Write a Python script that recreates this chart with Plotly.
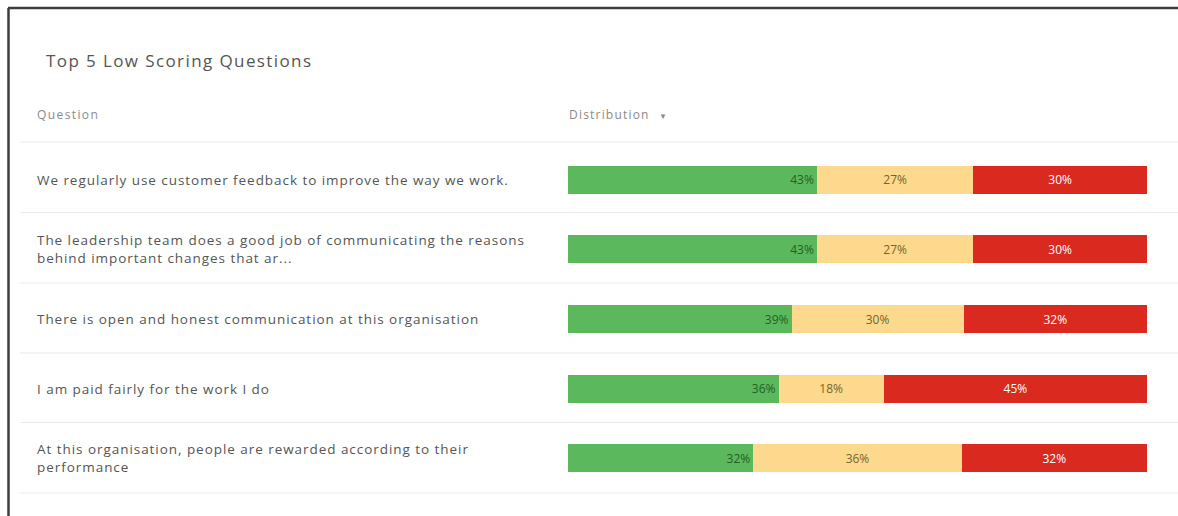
import plotly.graph_objects as go

# Survey questions and their response distribution (favourable / neutral / unfavourable, %)
questions = [
    "We regularly use customer feedback to improve the way we work.",
    "The leadership team does a good job of communicating the reasons<br>behind important changes that ar...",
    "There is open and honest communication at this organisation",
    "I am paid fairly for the work I do",
    "At this organisation, people are rewarded according to their<br>performance",
]
favourable = [43, 43, 39, 36, 32]
neutral = [27, 27, 30, 18, 36]
unfavourable = [30, 30, 32, 45, 32]

W, H = 1178, 516
PLOT_L, PLOT_R = 568, 1147
PLOT_T, PLOT_B = 145, 493


def px(x):
    return (x - PLOT_L) / (PLOT_R - PLOT_L)


def py(y):
    return (PLOT_B - y) / (PLOT_B - PLOT_T)


def spaced(text, spacing):
    # wrap each line in a span carrying extra letter spacing
    return "<br>".join(
        f"<span style='letter-spacing:{spacing}px'>{line}</span>"
        for line in text.split("<br>")
    )


FONT = "Open Sans, Noto Sans, sans-serif"
rows = list(range(len(questions)))

fig = go.Figure()
segments = [
    (favourable, "#5cb85c", "#245f24", "end"),
    (neutral, "#fcd98c", "#76652a", "middle"),
    (unfavourable, "#da2a20", "#ffffff", "middle"),
]
for vals, colour, tcolour, anchor in segments:
    fig.add_trace(go.Bar(
        x=vals,
        y=rows,
        orientation="h",
        width=0.40,
        marker=dict(color=colour, line=dict(width=0)),
        text=[f"{v}%" for v in vals],
        textposition="inside",
        insidetextanchor=anchor,
        textfont=dict(family=FONT, size=12, color=tcolour),
        constraintext="none",
        hoverinfo="skip",
        showlegend=False,
    ))

shapes = []
# card border (top and left edges)
shapes.append(dict(type="line", xref="paper", yref="paper",
                   x0=px(8), x1=px(W), y0=py(8), y1=py(8),
                   line=dict(color="#3c3c3c", width=2.5)))
shapes.append(dict(type="line", xref="paper", yref="paper",
                   x0=px(8.5), x1=px(8.5), y0=py(8), y1=py(H),
                   line=dict(color="#3c3c3c", width=2.5)))
# table row separators
for yy in [142, 212.5, 283, 353, 422.5, 493]:
    shapes.append(dict(type="line", xref="paper", yref="paper",
                       x0=px(20), x1=px(W), y0=py(yy), y1=py(yy),
                       line=dict(color="#ebebeb", width=1.2)))

annotations = [
    dict(text=spaced("Top 5 Low Scoring Questions", 1.4), xref="paper", yref="paper",
         x=px(44), y=py(60), xanchor="left", yanchor="middle", showarrow=False,
         font=dict(family=FONT, size=17, color="#555555")),
    dict(text=spaced("Question", 1.4), xref="paper", yref="paper",
         x=px(35), y=py(115), xanchor="left", yanchor="middle", showarrow=False,
         font=dict(family=FONT, size=12, color="#8a8a8a")),
    dict(text=spaced("Distribution", 1.2) + "   <span style='font-size:8px'>▼</span>",
         xref="paper", yref="paper",
         x=px(567), y=py(115), xanchor="left", yanchor="middle", showarrow=False,
         font=dict(family=FONT, size=12, color="#8a8a8a")),
]
for i, q in enumerate(questions):
    annotations.append(dict(
        text=spaced(q, 0.95), xref="paper", yref="y", x=px(35), y=i,
        xanchor="left", yanchor="middle", align="left", showarrow=False,
        font=dict(family=FONT, size=13.5, color="#555555"),
    ))

fig.update_layout(
    width=W, height=H,
    margin=dict(l=PLOT_L, r=W - PLOT_R, t=PLOT_T, b=H - PLOT_B, pad=0),
    barmode="stack",
    barnorm="percent",
    paper_bgcolor="#ffffff",
    plot_bgcolor="#ffffff",
    xaxis=dict(range=[0, 100], visible=False, fixedrange=True),
    yaxis=dict(range=[4.5, -0.5], visible=False, fixedrange=True),
    shapes=shapes,
    annotations=annotations,
    bargap=0,
)

fig.write_html("out.html", config={"displayModeBar": False, "staticPlot": True})
